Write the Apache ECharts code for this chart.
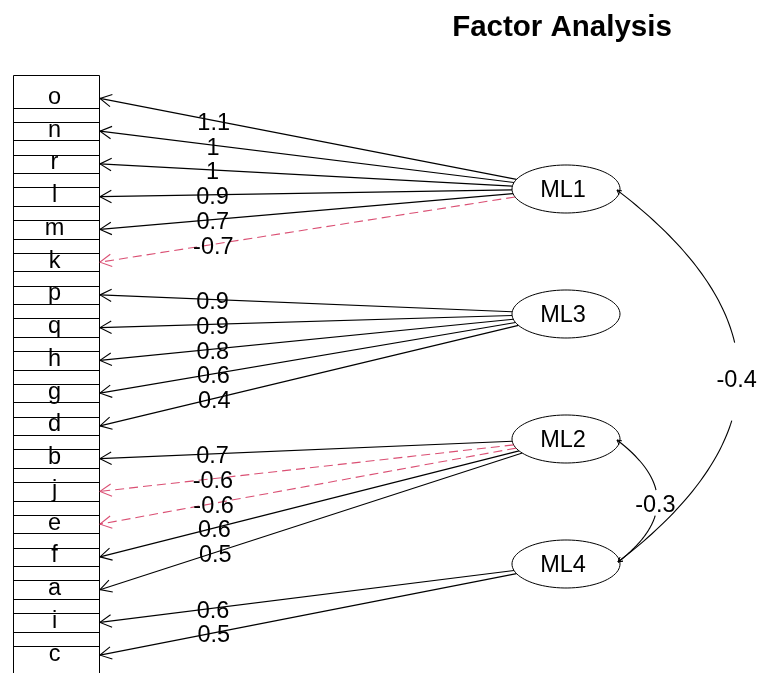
<!DOCTYPE html>
<html><head><meta charset="utf-8">
<script src="https://cdn.jsdelivr.net/npm/echarts@6/dist/echarts.min.js"></script>
<style>html,body{margin:0;padding:0;background:#fff}#c{width:763px;height:673px}</style>
</head><body><div id="c"></div>
<script>
// ---- data ----
const variables = ['o','n','r','l','m','k','p','q','h','g','d','b','j','e','f','a','i','c'];
const factors = ['ML1','ML3','ML2','ML4'];
const loadingVar = ['o','n','r','l','m','k','p','q','h','g','d','b','j','e','f','a','i','c'];
const loadingFactor = ['ML1','ML1','ML1','ML1','ML1','ML1','ML3','ML3','ML3','ML3','ML3','ML2','ML2','ML2','ML2','ML2','ML4','ML4'];
const loadingValue = [1.1,1,1,0.9,0.7,-0.7,0.9,0.9,0.8,0.6,0.4,0.7,-0.6,-0.6,0.6,0.5,0.6,0.5];
const corrFrom = ['ML1','ML2'];
const corrTo = ['ML4','ML4'];
const corrValue = [-0.4,-0.3];

// ---- layout (diagram units == pixels) ----
const VAR_Y0 = 98.4, VAR_DY = 32.75, BOX_X0 = 13, BOX_X1 = 99, BOX_H = 23.5;
const FACT_X = 566, FACT_Y0 = 189, FACT_DY = 125, FACT_RX = 54, FACT_RY = 24;
const FONT = '"Liberation Sans", Arial, sans-serif';
const NEG = 'rgba(212,48,90,0.85)';

const varY = i => VAR_Y0 + i * VAR_DY;
const factY = f => FACT_Y0 + f * FACT_DY;

function txt(x, y, s, size, weight) {
  return {type:'text', style:{text:s, x:x, y:y, fill:'#000', fontSize:size, fontFamily:FONT,
    fontWeight:weight||'normal', align:'center', verticalAlign:'middle', textAlign:'center', textVerticalAlign:'middle'}};
}
function arrowHead(tip, from, len, ang, stroke, lw) {
  const dx = from[0]-tip[0], dy = from[1]-tip[1], L = Math.hypot(dx,dy);
  const ux = dx/L, uy = dy/L;
  const r = (a) => [tip[0] + len*(ux*Math.cos(a) - uy*Math.sin(a)), tip[1] + len*(ux*Math.sin(a) + uy*Math.cos(a))];
  return {type:'polyline', shape:{points:[r(ang), tip, r(-ang)]}, style:{stroke:stroke, lineWidth:lw||1, fill:null}};
}

const option = {
  animation: false,
  title: {text:'Factor Analysis', left: 562, top: 13, textAlign:'center', padding:0,
    textStyle:{fontSize:29.5, fontWeight:'bold', fontFamily:FONT, color:'#000'}},
  grid: {left:0, right:0, top:0, bottom:0},
  xAxis: {type:'value', min:0, max:763, show:false},
  yAxis: {type:'value', min:0, max:673, inverse:true, show:false},
  series: [
    { // variable boxes
      type:'custom', clip:false,
      data: variables.map((v,i)=>[i]),
      renderItem: (params, api) => {
        const i = api.value(0), y = varY(i);
        const p0 = api.coord([BOX_X0, y-BOX_H]), p1 = api.coord([BOX_X1, y+BOX_H]);
        const c = api.coord([(BOX_X0+BOX_X1)/2 - 1.5, y]);
        return {type:'group', children:[
          {type:'rect', shape:{x:Math.round(p0[0])+0.5, y:Math.round(p0[1])+0.5, width:Math.round(p1[0]-p0[0]), height:Math.round(p1[1]-p0[1])},
            style:{fill:null, stroke:'#000', lineWidth:1}},
          txt(c[0], c[1]-1, variables[i], 23.5)
        ]};
      }
    },
    { // factor ellipses
      type:'custom', clip:false,
      data: factors.map((f,i)=>[i]),
      renderItem: (params, api) => {
        const f = api.value(0), cy = factY(f);
        const pts = [];
        for (let k=0;k<90;k++){ const a = k/90*Math.PI*2; pts.push(api.coord([FACT_X+FACT_RX*Math.cos(a), cy+FACT_RY*Math.sin(a)])); }
        const c = api.coord([FACT_X - 3, cy]);
        return {type:'group', children:[
          {type:'polygon', shape:{points:pts}, style:{fill:null, stroke:'#000', lineWidth:1}},
          txt(c[0], c[1]+2, factors[f], 23.5)
        ]};
      }
    },
    { // loadings arrows
      type:'custom', clip:false,
      data: loadingValue.map((v,k)=>[variables.indexOf(loadingVar[k]), factors.indexOf(loadingFactor[k]), v]),
      renderItem: (params, api) => {
        const i = api.value(0), f = api.value(1), v = api.value(2);
        const ty = varY(i), cy = factY(f);
        const dx = BOX_X1 - FACT_X, dy = ty - cy;
        const s = 1/Math.sqrt((dx/FACT_RX)**2 + (dy/FACT_RY)**2);
        const S = api.coord([FACT_X + dx*s, cy + dy*s]);
        const T = api.coord([BOX_X1+1, ty]);
        const neg = v < 0, col = neg ? NEG : '#000';
        const t = 0.273;
        const P = [T[0] + t*(S[0]-T[0]), T[1] + t*(S[1]-T[1]) + 3];
        return {type:'group', children:[
          {type:'line', shape:{x1:S[0], y1:S[1], x2:T[0], y2:T[1]}, style:{stroke:col, lineWidth:1.1, lineDash: neg ? [9,5] : null}},
          arrowHead(T, S, 13, 0.5, col, 1.1),
          txt(P[0], P[1], String(v), 23.5)
        ]};
      }
    },
    { // factor correlations (curved)
      type:'custom', clip:false,
      data: corrValue.map((v,k)=>[factors.indexOf(corrFrom[k]), factors.indexOf(corrTo[k]), v]),
      renderItem: (params, api) => {
        const a = api.value(0), b = api.value(1), v = api.value(2);
        const P0 = [FACT_X+51, factY(a)+1], P2 = [FACT_X+52, factY(b)-2];
        const d = Math.abs(P2[1]-P0[1]);
        const C = [P2[0] + 0.65*d, (P0[1]+P2[1])/2];
        const B = t => [(1-t)*(1-t)*P0[0]+2*t*(1-t)*C[0]+t*t*P2[0], (1-t)*(1-t)*P0[1]+2*t*(1-t)*C[1]+t*t*P2[1]];
        const seg = (t0,t1) => { const pts=[]; for(let k=0;k<=40;k++){ pts.push(api.coord(B(t0+(t1-t0)*k/40))); } return pts; };
        const m = B(0.5);
        const L = api.coord([m[0]-2, m[1]+5]);
        return {type:'group', children:[
          {type:'polyline', shape:{points:seg(0,0.41)}, style:{stroke:'#000', lineWidth:1.1, fill:null}},
          {type:'polyline', shape:{points:seg(0.62,1)}, style:{stroke:'#000', lineWidth:1.1, fill:null}},
          arrowHead(api.coord(P0), api.coord(B(0.04)), 5, 0.5, '#000', 1),
          arrowHead(api.coord(P2), api.coord(B(0.96)), 5, 0.5, '#000', 1),
          txt(L[0], L[1], String(v), 23.5)
        ]};
      }
    }
  ]
};
const chart = echarts.init(document.getElementById('c'), null, {renderer:'canvas'});
chart.setOption(option);
</script></body></html>
